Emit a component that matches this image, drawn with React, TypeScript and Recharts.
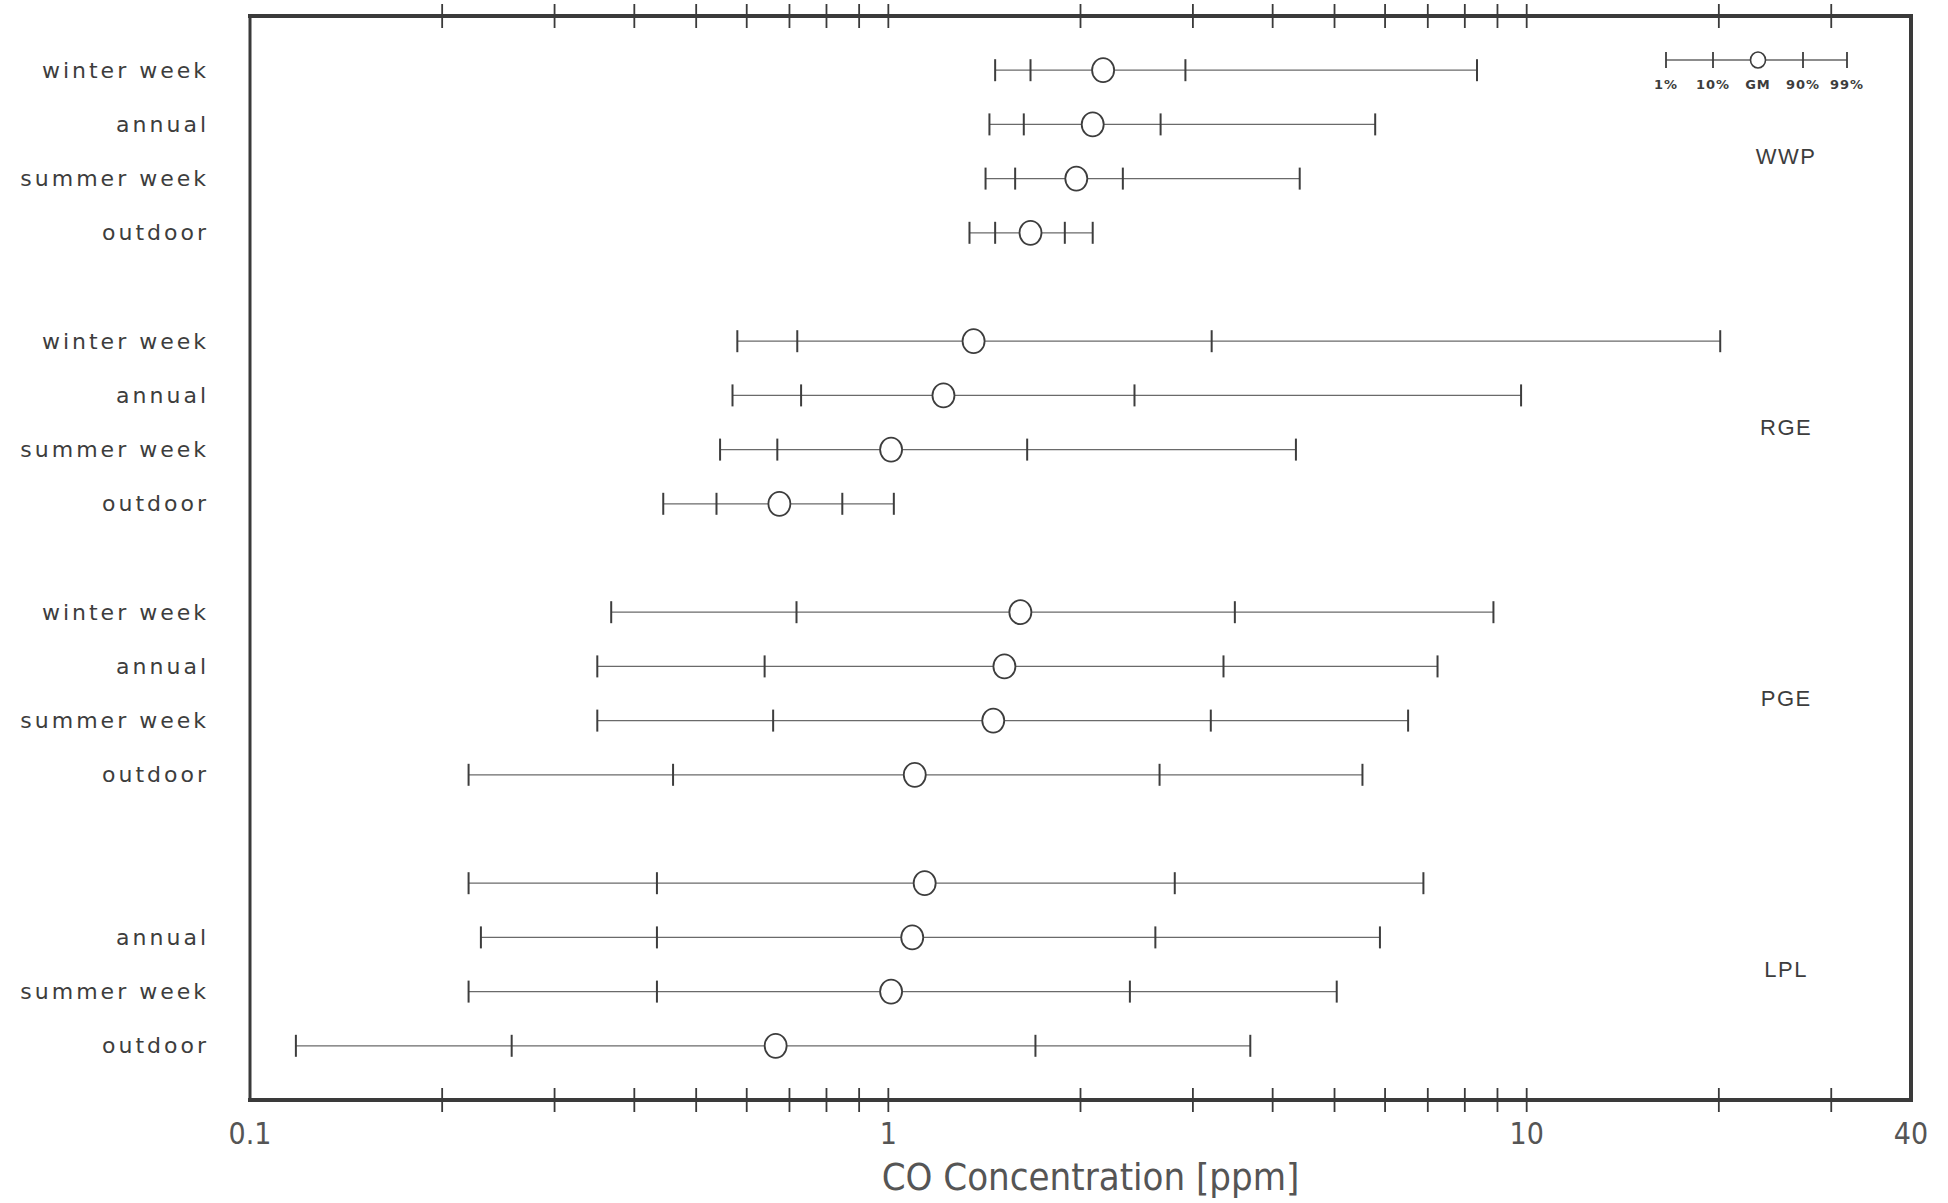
import { ScatterChart, Scatter, XAxis, YAxis, Legend } from 'recharts';

// sites (groups) and the exposure periods inside each group
const sites = ['WWP', 'RGE', 'PGE', 'LPL'];
const periods = ['winter week', 'annual', 'summer week', 'outdoor'];

// row labels as printed (the LPL winter week row has no label in the figure)
const rowLabels = [
  'winter week', 'annual', 'summer week', 'outdoor',
  'winter week', 'annual', 'summer week', 'outdoor',
  'winter week', 'annual', 'summer week', 'outdoor',
  '', 'annual', 'summer week', 'outdoor',
];

// percentiles and geometric mean, CO in ppm, one entry per row
const p1 = [1.47, 1.44, 1.42, 1.34, 0.58, 0.57, 0.545, 0.444, 0.368, 0.35, 0.35, 0.22, 0.22, 0.23, 0.22, 0.118];
const p10 = [1.67, 1.63, 1.58, 1.47, 0.72, 0.73, 0.67, 0.538, 0.718, 0.64, 0.66, 0.46, 0.434, 0.434, 0.434, 0.257];
const gm = [2.17, 2.09, 1.97, 1.67, 1.36, 1.22, 1.01, 0.675, 1.61, 1.52, 1.46, 1.1, 1.14, 1.09, 1.01, 0.666];
const p90 = [2.92, 2.67, 2.33, 1.89, 3.21, 2.43, 1.65, 0.847, 3.49, 3.35, 3.2, 2.66, 2.81, 2.62, 2.39, 1.7];
const p99 = [8.36, 5.79, 4.41, 2.09, 20.1, 9.8, 4.35, 1.02, 8.87, 7.25, 6.52, 5.53, 6.89, 5.89, 5.04, 3.69];

const xTicks = [0.1, 0.2, 0.3, 0.4, 0.5, 0.6, 0.7, 0.8, 0.9, 1, 2, 3, 4, 5, 6, 7, 8, 9, 10, 20, 30, 40];
const xLabels = [0.1, 1, 10, 40];
const legendLabels = ['1%', '10%', 'GM', '90%', '99%'];

const GROUP_X = 25.5;
const FRAME = '#3a3a3a';
const INK = '#3d3d3d';
const NARROW = '"Liberation Sans Narrow", "DejaVu Sans Condensed", sans-serif';

const rows = sites.flatMap((site, s) =>
  periods.map((period, p) => {
    const i = s * 4 + p;
    const slot = s * 5 + p;
    const kinds = ['p1', 'p10', 'gm', 'p90', 'p99'];
    const vals = [p1[i], p10[i], gm[i], p90[i], p99[i]];
    return {
      key: `${site}-${period}`,
      slot,
      label: rowLabels[i],
      points: vals.map((x, k) => ({ x, y: slot, kind: kinds[k] })),
    };
  }),
);

const slotLabel: Record<number, string> = {};
rows.forEach((r) => (slotLabel[r.slot] = r.label));

const groupPoints = sites.map((name, s) => ({ x: GROUP_X, y: s * 5 + 1.6, name }));

const Mark = (props: any) => {
  const { cx, cy, payload } = props;
  if (cx == null || cy == null) return null;
  if (payload.kind === 'gm') {
    return <ellipse cx={cx} cy={cy} rx={11} ry={12} fill="#fff" stroke={INK} strokeWidth={1.8} />;
  }
  return <line x1={cx} x2={cx} y1={cy - 11} y2={cy + 11} stroke={INK} strokeWidth={2} />;
};

const GroupLabel = (props: any) => {
  const { cx, cy, payload } = props;
  return (
    <text
      x={cx}
      y={cy}
      textAnchor="middle"
      dominantBaseline="central"
      fontFamily="'Liberation Sans', Arial, sans-serif"
      fontSize={22}
      letterSpacing={1.5}
      fill={INK}
    >
      {payload.name}
    </text>
  );
};

const XTick = (props: any) => {
  const { x, y, payload, side } = props;
  const v = payload.value;
  const atEdge = v === 0.1 || v === 40;
  const showLabel = side === 'bottom' && xLabels.includes(v);
  return (
    <g>
      {!atEdge && <line x1={x} x2={x} y1={y - 12} y2={y + 12} stroke={FRAME} strokeWidth={1.8} />}
      {showLabel && (
        <text
          x={x}
          y={y + 33}
          textAnchor="middle"
          dominantBaseline="central"
          fontFamily={NARROW}
          fontSize={30}
          fill="#555"
        >
          {v}
        </text>
      )}
    </g>
  );
};

const YTick = (props: any) => {
  const { x, y, payload } = props;
  const label = slotLabel[payload.value];
  if (!label) return null;
  return (
    <text
      x={x - 41}
      y={y}
      textAnchor="end"
      dominantBaseline="central"
      fontFamily="'DejaVu Sans', sans-serif"
      fontSize={22}
      letterSpacing={3}
      fill={INK}
    >
      {label}
    </text>
  );
};

const KeyBox = () => {
  const xs = [11, 58, 103, 148, 192];
  return (
    <svg width={215} height={50}>
      <line x1={xs[0]} x2={xs[4]} y1={15} y2={15} stroke="#666" strokeWidth={1.3} />
      {xs.map((x, k) =>
        k === 2 ? (
          <ellipse key={k} cx={x} cy={15} rx={7.5} ry={8} fill="#fff" stroke={INK} strokeWidth={1.6} />
        ) : (
          <line key={k} x1={x} x2={x} y1={7} y2={23} stroke={INK} strokeWidth={1.8} />
        ),
      )}
      {legendLabels.map((t, k) => (
        <text
          key={t}
          x={xs[k]}
          y={39}
          textAnchor="middle"
          dominantBaseline="central"
          fontFamily="'DejaVu Sans', sans-serif"
          fontWeight="bold"
          fontSize={13}
          letterSpacing={1}
          fill={INK}
        >
          {t}
        </text>
      ))}
    </svg>
  );
};

export default function App() {
  return (
    <div style={{ position: 'absolute', left: 0, top: 0, background: '#fff' }}>
      <ScatterChart width={1948} height={1203} margin={{ top: 0, right: 36, bottom: 0, left: 0 }}>
        <XAxis
          xAxisId="b"
          type="number"
          dataKey="x"
          scale="log"
          domain={[0.1, 40]}
          allowDataOverflow
          ticks={xTicks}
          interval={0}
          height={103}
          tickSize={0}
          tickMargin={0}
          tickLine={false}
          axisLine={{ stroke: FRAME, strokeWidth: 4, strokeLinecap: 'square' }}
          tick={(p: any) => <XTick {...p} side="bottom" />}
          label={{
            value: 'CO Concentration [ppm]',
            position: 'insideBottom',
            offset: 13,
            dx: 10,
            style: { fontFamily: NARROW, fontSize: 38, fill: '#555' },
          }}
        />
        <XAxis
          xAxisId="t"
          orientation="top"
          type="number"
          dataKey="x"
          scale="log"
          domain={[0.1, 40]}
          allowDataOverflow
          ticks={xTicks}
          interval={0}
          height={16}
          tickSize={0}
          tickMargin={0}
          tickLine={false}
          axisLine={{ stroke: FRAME, strokeWidth: 4, strokeLinecap: 'square' }}
          tick={(p: any) => <XTick {...p} side="top" />}
        />
        <YAxis
          yAxisId="l"
          type="number"
          dataKey="y"
          domain={[-1, 19]}
          reversed
          allowDataOverflow
          ticks={rows.map((r) => r.slot)}
          interval={0}
          width={250}
          tickSize={0}
          tickMargin={0}
          tickLine={false}
          axisLine={{ stroke: FRAME, strokeWidth: 3, strokeLinecap: 'square' }}
          tick={(p: any) => <YTick {...p} />}
        />
        <YAxis
          yAxisId="r"
          orientation="right"
          type="number"
          domain={[-1, 19]}
          reversed
          width={1}
          tick={false}
          tickLine={false}
          axisLine={{ stroke: FRAME, strokeWidth: 4, strokeLinecap: 'square' }}
        />
        <Legend
          layout="horizontal"
          verticalAlign="middle"
          align="center"
          wrapperStyle={{ position: 'absolute', left: 1655, top: 45, width: 215, height: 50 }}
          content={() => <KeyBox />}
        />
        {rows.map((r) => (
          <Scatter
            key={r.key}
            xAxisId="b"
            yAxisId="l"
            data={r.points}
            line={{ stroke: '#6a6a6a', strokeWidth: 1.3 }}
            lineType="joint"
            shape={Mark}
            isAnimationActive={false}
            legendType="none"
          />
        ))}
        <Scatter
          xAxisId="b"
          yAxisId="l"
          data={groupPoints}
          shape={GroupLabel}
          isAnimationActive={false}
          legendType="none"
        />
      </ScatterChart>
    </div>
  );
}
